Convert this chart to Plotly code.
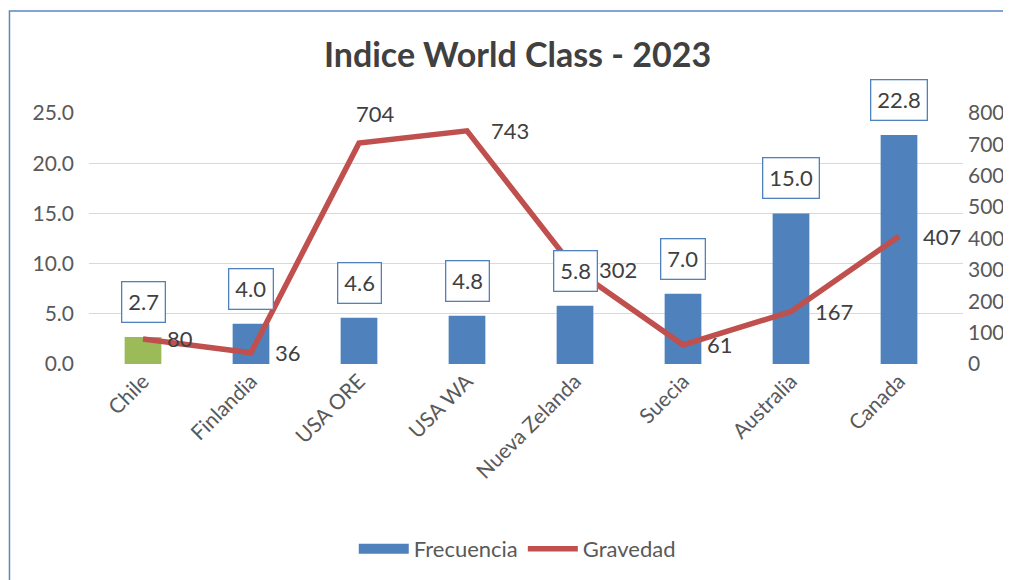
import plotly.graph_objects as go

# Data
paises = ["Chile", "Finlandia", "USA ORE", "USA WA", "Nueva Zelanda",
          "Suecia", "Australia", "Canada"]
frecuencia = [2.7, 4.0, 4.6, 4.8, 5.8, 7.0, 15.0, 22.8]
gravedad = [80, 36, 704, 743, 302, 61, 167, 407]
destacado = "Chile"

BLUE = "#4F81BD"
GREEN = "#9BBB59"
RED = "#C0504D"
TXT = "#595959"
FONT = "Lato"

freq_azul = [None if p == destacado else v for p, v in zip(paises, frecuencia)]
freq_verde = [v if p == destacado else None for p, v in zip(paises, frecuencia)]

fig = go.Figure()

fig.add_trace(go.Bar(
    name="Frecuencia",
    x=paises,
    y=freq_azul,
    marker=dict(color=BLUE, line=dict(width=0)),
    width=0.34,
    yaxis="y",
    showlegend=False,
))

fig.add_trace(go.Bar(
    name="Chile",
    x=paises,
    y=freq_verde,
    marker=dict(color=GREEN, line=dict(width=0)),
    width=0.34,
    yaxis="y",
    showlegend=False,
))

# legend swatch for the bars (wide rectangle, like the original)
fig.add_trace(go.Scatter(
    name="Frecuencia",
    x=[None], y=[None],
    mode="lines",
    line=dict(color=BLUE, width=14),
    yaxis="y",
))

fig.add_trace(go.Scatter(
    name="Gravedad",
    x=paises,
    y=gravedad,
    mode="lines",
    line=dict(color=RED, width=5.5),
    yaxis="y2",
))

# boxed labels above bars
for p, v in zip(paises, frecuencia):
    fig.add_annotation(
        x=p, y=v, xref="x", yref="y",
        text=f"{v:.1f}", showarrow=False,
        yshift=35,
        font=dict(family=FONT, size=22, color="#404040"),
        bordercolor=BLUE, borderwidth=1.3, borderpad=6,
        bgcolor="white",
    )

# labels for the line
for p, v in zip(paises, gravedad):
    if v == 704:
        xs, ys = -5, 30
    else:
        xs, ys = 22, 0
    fig.add_annotation(
        x=p, y=v, xref="x", yref="y2",
        text=str(v), showarrow=False,
        xanchor="left", xshift=xs, yshift=ys,
        font=dict(family=FONT, size=22, color="#404040"),
    )

# chart frame (left and top edges visible)
fig.add_shape(
    type="rect", xref="paper", yref="paper",
    x0=-0.091, y0=-1.2, x1=1.2, y1=1.406,
    line=dict(color="#5B87C0", width=1.5),
    layer="below",
)

fig.update_layout(
    width=1003,
    height=572,
    margin=dict(l=81, r=48, t=105, b=216, autoexpand=False),
    paper_bgcolor="white",
    plot_bgcolor="white",
    barmode="overlay",
    title=dict(
        text="<b>Indice World Class - 2023</b>",
        x=0.508, xanchor="center",
        y=0.918, yanchor="middle",
        font=dict(family=FONT, size=34, color="#404040"),
    ),
    font=dict(family=FONT, size=21, color=TXT),
    showlegend=True,
    legend=dict(
        orientation="h",
        x=0.49, xanchor="center",
        y=-0.737, yanchor="middle",
        font=dict(family=FONT, size=22, color=TXT),
        traceorder="normal",
        itemwidth=50,
    ),
    xaxis=dict(
        tickangle=-45,
        showgrid=False,
        showline=False,
        ticks="",
        automargin=False,
        tickfont=dict(family=FONT, size=21, color=TXT),
    ),
    yaxis=dict(
        range=[0, 25],
        dtick=5,
        tickformat=".1f",
        showgrid=True,
        gridcolor="#D9D9D9",
        gridwidth=1,
        zeroline=False,
        showline=False,
        ticks="",
        automargin=False,
        ticklabelstandoff=14,
        tickfont=dict(family=FONT, size=21, color=TXT),
    ),
    yaxis2=dict(
        range=[0, 800],
        dtick=100,
        overlaying="y",
        side="right",
        showgrid=False,
        zeroline=False,
        showline=False,
        ticks="",
        automargin=False,
        ticklabelstandoff=4,
        tickfont=dict(family=FONT, size=21, color=TXT),
    ),
)

fig.write_html("out.html")
